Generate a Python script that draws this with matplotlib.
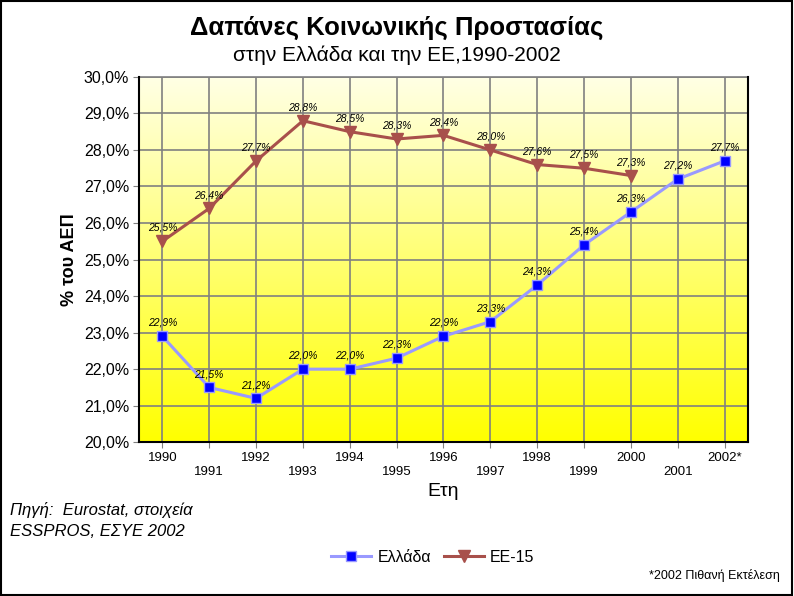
import matplotlib
matplotlib.use("agg")
import matplotlib.pyplot as plt
import numpy as np
from matplotlib.ticker import FuncFormatter, MultipleLocator

plt.rcParams['font.family'] = ['Liberation Sans', 'DejaVu Sans']

years = ['1990', '1991', '1992', '1993', '1994', '1995', '1996',
         '1997', '1998', '1999', '2000', '2001', '2002*']
greece = [22.9, 21.5, 21.2, 22.0, 22.0, 22.3, 22.9, 23.3, 24.3, 25.4, 26.3, 27.2, 27.7]
eu15 = [25.5, 26.4, 27.7, 28.8, 28.5, 28.3, 28.4, 28.0, 27.6, 27.5, 27.3]

fig = plt.figure(figsize=(7.94, 5.96), dpi=100)
ax = fig.add_axes([0.175, 0.258, 0.767, 0.613])

# gradient background, pale at top to yellow at bottom
grad = np.linspace(0, 1, 256).reshape(-1, 1)
top = np.array([1.0, 1.0, 0.9])
bot = np.array([1.0, 1.0, 0.0])
img = top + (bot - top) * grad[:, :, None]
ax.imshow(img, extent=[0, 1, 0, 1], transform=ax.transAxes, aspect='auto', zorder=0)

x = np.arange(len(years))
ax.plot(x, greece, color='#9999ff', lw=2.2, marker='s', ms=7,
        mfc='#0000ff', mec='#9999ff', mew=1, label='Ελλάδα', zorder=3)
ax.plot(x[:len(eu15)], eu15, color='#a8504b', lw=2.2, marker='v', ms=8,
        mfc='#a8504b', mec='#a8504b', label='ΕΕ-15', zorder=3)

for xi, v in zip(x, greece):
    ax.annotate(f'{v:.1f}%'.replace('.', ','), (xi, v), xytext=(0, 6),
                textcoords='offset points', ha='center', va='bottom',
                fontsize=7.5, style='italic', zorder=4)
for xi, v in zip(x, eu15):
    ax.annotate(f'{v:.1f}%'.replace('.', ','), (xi, v), xytext=(0, 6),
                textcoords='offset points', ha='center', va='bottom',
                fontsize=7.5, style='italic', zorder=4)

ax.set_xlim(-0.5, len(years) - 0.5)
ax.set_ylim(20, 30)
ax.yaxis.set_major_locator(MultipleLocator(1))
ax.yaxis.set_major_formatter(FuncFormatter(lambda v, p: f'{v:.1f}%'.replace('.', ',')))
ax.set_xticks(x)
ax.set_xticklabels([y if i % 2 == 0 else '\n' + y for i, y in enumerate(years)])
ax.tick_params(axis='both', direction='out', length=4, color='#808080')
ax.tick_params(axis='x', labelsize=9.5, pad=3)
ax.tick_params(axis='y', labelsize=11.5, pad=3)
ax.grid(True, color='#808080', lw=1.2, zorder=1)
ax.set_axisbelow(True)
for s in ['top', 'right']:
    ax.spines[s].set_visible(False)
ax.spines['left'].set_linewidth(1.5)
ax.spines['bottom'].set_linewidth(1.5)
ax.plot([1, 1], [0, 1], transform=ax.transAxes, color='black', lw=1.5, clip_on=False, zorder=5)
ax.plot([0, 1], [1, 1], transform=ax.transAxes, color='#808080', lw=1.2, clip_on=False, zorder=1)

ax.set_ylabel('% του ΑΕΠ', fontsize=13, fontweight='bold', labelpad=4)
ax.set_xlabel('Ετη', fontsize=14, labelpad=4)

fig.text(0.5, 0.953, 'Δαπάνες Κοινωνικής Προστασίας', ha='center', va='center',
         fontsize=18.5, fontweight='bold')
fig.text(0.5, 0.907, 'στην Ελλάδα και την ΕΕ,1990-2002', ha='center', va='center', fontsize=15)
fig.text(0.012, 0.145, 'Πηγή:  Eurostat, στοιχεία', ha='left', va='center',
         fontsize=12, style='italic')
fig.text(0.012, 0.108, 'ESSPROS, ΕΣΥΕ 2002', ha='left', va='center',
         fontsize=12, style='italic')
fig.text(0.982, 0.035, '*2002 Πιθανή Εκτέλεση', ha='right', va='center', fontsize=9)

fig.legend(loc='center', bbox_to_anchor=(0.545, 0.065), ncol=2, frameon=False,
           fontsize=11.5, handlelength=2.5, columnspacing=0.8, handletextpad=0.4)

# outer border
fig.patches.append(plt.Rectangle((0.001, 0.001), 0.997, 0.997, transform=fig.transFigure,
                                 fill=False, edgecolor='black', lw=1.5))

plt.savefig('out.png', dpi=100)
plt.close()
